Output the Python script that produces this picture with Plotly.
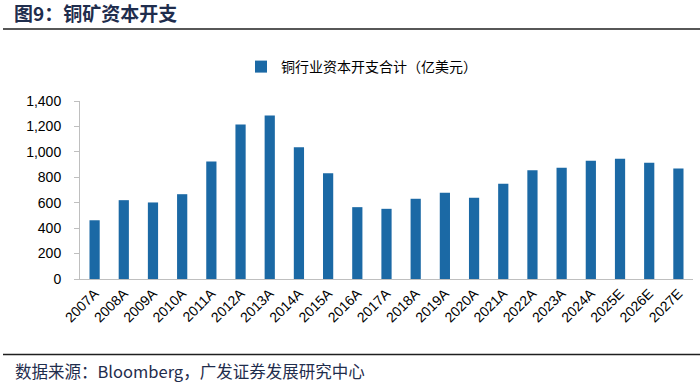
import plotly.graph_objects as go

categories = ["2007A", "2008A", "2009A", "2010A", "2011A", "2012A", "2013A", "2014A",
              "2015A", "2016A", "2017A", "2018A", "2019A", "2020A", "2021A", "2022A",
              "2023A", "2024A", "2025E", "2026E", "2027E"]
capex = [462, 620, 602, 667, 924, 1215, 1286, 1037, 832, 565, 552, 631, 678, 639,
         749, 856, 875, 930, 946, 914, 869]
series_name = "铜行业资本开支合计（亿美元）"
y_ticks = [0, 200, 400, 600, 800, 1000, 1200, 1400]
y_tick_labels = ["0", "200", "400", "600", "800", "1,000", "1,200", "1,400"]

W, H = 700, 383
L, R, T, B = 80, 7, 101, 104
pw, ph = W - L - R, H - T - B

def px_x(px):
    return (px - L) / pw

def px_y(py):
    return (H - B - py) / ph

fig = go.Figure()
fig.add_trace(go.Bar(
    x=categories, y=capex, name=series_name,
    marker=dict(color="#1B69A5", line=dict(width=0)),
    showlegend=True,
))

fig.update_layout(
    width=W, height=H,
    margin=dict(l=L, r=R, t=T, b=B, autoexpand=False),
    paper_bgcolor="white", plot_bgcolor="white",
    bargap=0.65,
    font=dict(family="Liberation Sans, Arial, Noto Sans CJK SC", color="#000000"),
    title=dict(
        text="<b>图9：铜矿资本开支</b>",
        xref="container", yref="container",
        x=14 / W, xanchor="left", y=1 - 14 / H, yanchor="middle",
        font=dict(size=19, family="Noto Sans CJK SC", color="#1F2D4D"),
        pad=dict(t=0, b=0, l=0, r=0),
    ),
    showlegend=True,
    legend=dict(
        orientation="h", x=px_x(241), xanchor="left", y=px_y(67), yanchor="middle",
        font=dict(size=14, family="Noto Sans CJK SC", color="#000000"),
        itemwidth=30, bgcolor="rgba(0,0,0,0)",
    ),
    xaxis=dict(
        type="category", showline=True, linecolor="#BFBFBF", linewidth=1,
        ticks="", tickangle=-45, tickfont=dict(size=14, family="Liberation Sans"),
        showgrid=False,
    ),
    yaxis=dict(
        range=[0, 1400], tickvals=y_ticks, ticktext=y_tick_labels,
        showline=True, linecolor="#BFBFBF", linewidth=1,
        ticks="outside", ticklen=5, tickcolor="#BFBFBF",
        ticklabelstandoff=10,
        tickfont=dict(size=14, family="Liberation Sans"),
        showgrid=False, zeroline=False,
    ),
    shapes=[
        dict(type="line", xref="paper", yref="paper",
             x0=px_x(3), x1=px_x(700), y0=px_y(29), y1=px_y(29),
             line=dict(color="#1F1F1F", width=1.5), layer="above"),
        dict(type="line", xref="paper", yref="paper",
             x0=px_x(3), x1=px_x(700), y0=px_y(354.5), y1=px_y(354.5),
             line=dict(color="#1F1F1F", width=1.5), layer="above"),
    ],
)

fig.add_annotation(
    text="数据来源：Bloomberg，广发证券发展研究中心", xref="paper", yref="paper",
    x=px_x(13), y=px_y(371), xanchor="left", yanchor="middle", showarrow=False,
    font=dict(size=16.5, family="Noto Sans CJK SC", color="#1F2D4D"),
)

fig.write_html("out.html", config={"displayModeBar": False},
               post_script="document.body.style.margin='0';document.body.style.overflow='hidden';")
